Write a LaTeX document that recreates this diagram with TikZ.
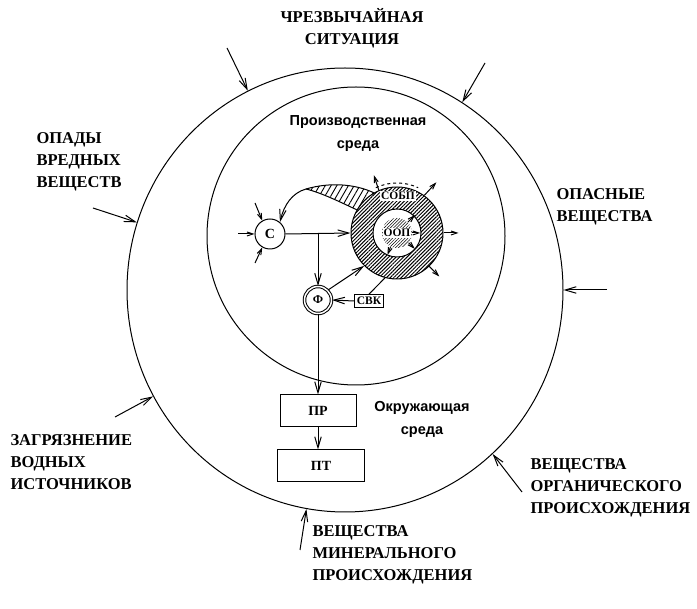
\documentclass[tikz,border=0pt]{standalone}
\usepackage{fontspec}
\setmainfont{Liberation Serif}
\newfontfamily\envfont{Liberation Sans}
\usetikzlibrary{shapes.geometric, arrows.meta, patterns.meta, calc}

\begin{document}
\begin{tikzpicture}[x=1pt, y=-1pt, line width=1pt,
  >={Straight Barb[length=11pt,width=6.5pt]},
  big/.style={font=\fontsize{16.5}{22}\selectfont\bfseries, align=left, inner sep=0pt},
  env/.style={font=\envfont\fontsize{14.5}{23}\selectfont\bfseries, align=center, inner sep=0pt},
  box/.style={draw, minimum width=76pt, minimum height=32pt, font=\fontsize{14}{14}\selectfont\bfseries},
  ball/.style={circle, draw, minimum size=30pt, inner sep=0pt, font=\fontsize{14}{14}\selectfont\bfseries},
  tag/.style={fill=white, inner sep=1pt, font=\fontsize{11.5}{11.5}\selectfont\bfseries},
  tiny/.style={-{Straight Barb[length=6pt,width=4pt]}}]

\useasboundingbox (0,0) rectangle (697,609);

% the two media
\node (outer)[ellipse, draw, minimum width=436pt, minimum height=444pt, inner sep=0pt] at (345,290) {};
\node (inner)[circle, draw, minimum size=298pt, inner sep=0pt] at (356,236) {};

\node (proizv)[env] at (358,134) {Производственная\\среда};
\node (okr)[env] at (422,419) {Окружающая\\среда};

% outside influences
\node (chs)[big, align=center] at (352,28) {ЧРЕЗВЫЧАЙНАЯ\\СИТУАЦИЯ};
\node (opady)[big, anchor=west] at (36,162) {ОПАДЫ\\ВРЕДНЫХ\\ВЕЩЕСТВ};
\node (opas)[big, anchor=west] at (556,207) {ОПАСНЫЕ\\ВЕЩЕСТВА};
\node (zagr)[big, anchor=west] at (10,462) {ЗАГРЯЗНЕНИЕ\\ВОДНЫХ\\ИСТОЧНИКОВ};
\node (org)[big, anchor=west] at (530,488) {ВЕЩЕСТВА\\ОРГАНИЧЕСКОГО\\ПРОИСХОЖДЕНИЯ};
\node (min)[big, anchor=west] at (312,555) {ВЕЩЕСТВА\\МИНЕРАЛЬНОГО\\ПРОИСХОЖДЕНИЯ};

\coordinate (in1) at (227,48);
\coordinate (in2) at (485,63);
\coordinate (in3) at (93,208);
\coordinate (in4) at (115,417);
\coordinate (in5) at (607,290);
\coordinate (in6) at (522,492);
\coordinate (in7) at (300,550);

\draw[->] (in1) -- (outer.116);
\draw[->] (in2) -- (outer.58);
\draw[->] (in3) -- (outer.162);
\draw[->] (in4) -- (outer.-151);
\draw[->] (in5) -- (outer.0);
\draw[->] (in6) -- (outer.-48);
\draw[->] (in7) -- (outer.-100);

% source, hazard zone
\node (c)[ball] at (270,234) {С};

\coordinate (tail) at (306,189);
\node (ring)[circle, minimum size=92pt, inner sep=0pt] at (397,233) {};
\fill[pattern={Lines[angle=60,distance=5pt,line width=0.9pt]}] (tail) .. controls (330,182) and (355,184) .. (ring.120)
  -- (ring.150) .. controls (340,202) and (322,193) .. (tail);
\draw (tail) .. controls (330,182) and (355,184) .. (ring.120);
\draw (ring.150) .. controls (340,202) and (322,193) .. (tail);
\draw[->] (tail) .. controls (292,193) and (284,205) .. (c.50);

\node[circle, draw, minimum size=92pt, inner sep=0pt, pattern={Lines[angle=45,distance=2.6pt,line width=1pt]}] at (ring) {};
\node (hole)[circle, draw, fill=white, minimum size=48pt, inner sep=0pt] at (ring) {};
\node (oopd)[circle, minimum size=30pt, inner sep=0pt, pattern={Lines[angle=45,distance=2.2pt,line width=0.5pt]}] at (ring) {};
\node (oop)[tag] at (ring) {ООП};
\draw[dashed] (ring.center) ++(-115:50) arc[start angle=-115, end angle=-65, radius=50];
\node (sobp)[tag] at (398,196) {СОБП};

\node (f)[ball, double, double distance=1.5pt, minimum size=27pt, font=\fontsize{12}{12}\selectfont\bfseries] at (318,300) {Ф};
\node (svk)[draw, inner sep=2.5pt, font=\fontsize{11.5}{11.5}\selectfont\bfseries] at (369,301) {СВК};

\node (pr)[box] at (318,411) {ПР};
\node (pt)[box, minimum width=87pt] at (321,466) {ПТ};

% flows
\coordinate (split) at (f.north |- c.east);
\draw[->] (c.east) -- (ring.west);
\draw[->] (split) -- (f.north);
\draw[->] (f.45) -- (ring.-135);
\draw[->] (svk.west) -- (f.east);
\draw (svk.north) -- (ring.-105);
\draw[->] (f.south) -- (pr.north);
\draw[->] (pr.south) -- (pr.south |- pt.north);

% into the source
\coordinate (c1) at (238,234);
\coordinate (c2) at (255,203);
\coordinate (c3) at (255,263);
\draw[tiny] (c1) -- (c.west);
\draw[tiny] (c2) -- (c.120);
\draw[tiny] (c3) -- (c.240);

% out of the zone
\draw[tiny] (ring.113) -- ++(-5,-15);
\draw[tiny] (ring.54) -- ++(12,-13);
\draw[tiny] (ring.0) -- ++(15,0);
\draw[tiny] (ring.-46) -- ++(10,10);
\draw[tiny] (oopd.45) -- ++(7,-7);
\draw[tiny] (oopd.0) -- ++(8,0);
\draw[tiny] (oopd.-40) -- ++(6,6);
\draw[tiny] (oopd.-115) -- ++(-3,8);
\end{tikzpicture}
\end{document}
